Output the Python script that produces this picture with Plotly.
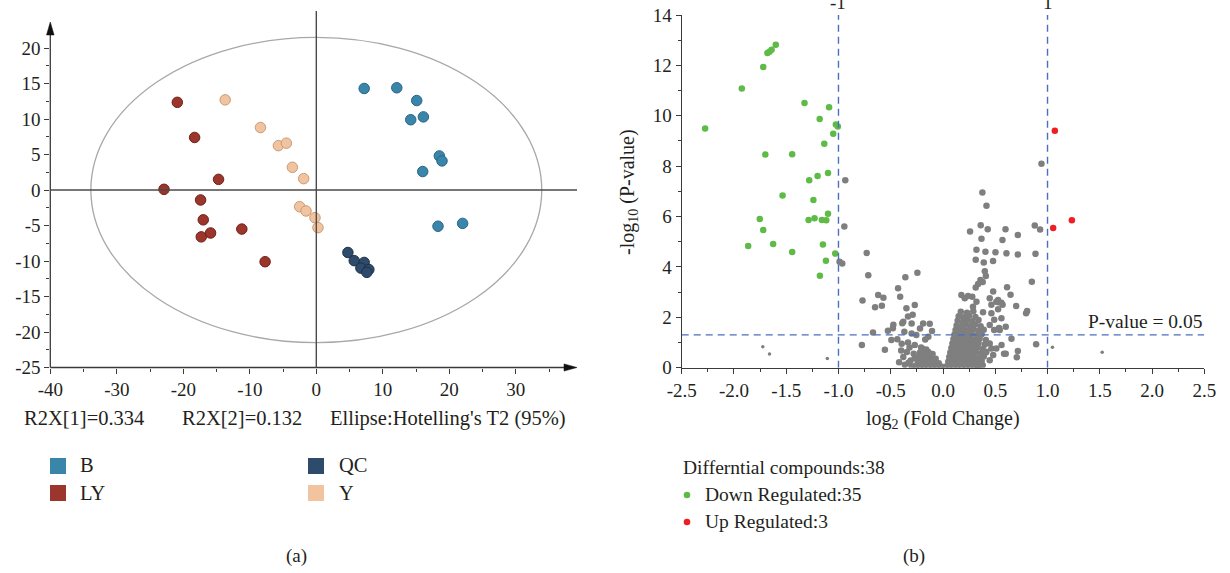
import math
import plotly.graph_objects as go

W, H = 1230, 573
FONT = "Liberation Serif"
TXT = "#231F20"
AX = "#3A3A3A"

# ---------------- (a) PCA score plot data ----------------
B_x = [7.2, 12.1, 15.1, 14.2, 16.1, 18.5, 18.9, 16.0, 18.3, 22.0]
B_y = [14.3, 14.4, 12.6, 9.9, 10.3, 4.8, 4.1, 2.6, -5.1, -4.7]
LY_x = [-20.9, -18.3, -22.9, -14.7, -17.4, -17.0, -17.3, -15.9, -11.2, -7.7]
LY_y = [12.35, 7.4, 0.1, 1.5, -1.4, -4.2, -6.6, -6.05, -5.5, -10.1]
QC_x = [4.75, 5.7, 7.2, 6.7, 7.9, 7.6]
QC_y = [-8.8, -9.95, -10.2, -11.0, -11.2, -11.6]
Y_x = [-13.7, -8.4, -5.7, -4.5, -3.6, -1.9, -2.5, -1.55, -0.2, 0.25]
Y_y = [12.7, 8.8, 6.25, 6.6, 3.2, 1.6, -2.35, -2.95, -3.9, -5.3]
group_names = ["B", "LY", "QC", "Y"]
pca_notes = ["R2X[1]=0.334", "R2X[2]=0.132", "Ellipse:Hotelling's T2 (95%)"]
ellipse_semi = [33.9, 21.5]
pca_xticks = [-40, -30, -20, -10, 0, 10, 20, 30]
pca_xminor = [-35, -25, -15, -5, 5, 15, 25, 35]
pca_yticks = [-25, -20, -15, -10, -5, 0, 5, 10, 15, 20]
pca_yminor = [-22.5, -17.5, -12.5, -7.5, -2.5, 2.5, 7.5, 12.5, 17.5]

# ---------------- (b) volcano plot data ----------------
down_fc = [-2.276, -1.925, -1.72, -1.68, -1.66, -1.64, -1.60, -1.325, -1.09, -1.18,
           -1.025, -1.006, -1.05, -1.136, -1.70, -1.443, -1.10, -1.20, -1.28, -1.535,
           -1.24, -1.10, -1.753, -1.286, -1.229, -1.159, -1.117, -1.72, -1.864, -1.625,
           -1.443, -1.149, -1.031, -1.12, -1.178]
down_p = [9.49, 11.08, 11.94, 12.49, 12.54, 12.62, 12.82, 10.51, 10.34, 9.87,
          9.65, 9.57, 9.29, 8.89, 8.46, 8.47, 7.73, 7.61, 7.44, 6.84,
          6.66, 6.11, 5.90, 5.86, 5.93, 5.86, 5.85, 5.47, 4.83, 4.91,
          4.59, 4.89, 4.53, 4.25, 3.65]
up_fc = [1.07, 1.054, 1.233]
up_p = [9.41, 5.55, 5.85]
ns_points = [
    # scattered, left side
    (-0.935, 7.44), (-0.944, 5.60), (-0.990, 4.21), (-0.964, 4.14), (-0.730, 4.55), (-0.715, 3.67),
    (-0.770, 2.67), (-0.620, 2.89), (-0.570, 2.78), (-0.650, 2.40), (-0.585, 2.46), (-0.360, 3.59),
    (-0.430, 3.15), (-0.410, 2.82), (-0.245, 3.77), (-0.670, 1.40), (-0.776, 0.90), (-0.556, 0.71),
    (-0.527, 1.47), (-0.475, 1.70), (-0.480, 1.57), (-0.494, 1.10), (-0.437, 1.13), (-0.105, 1.46),
    (-0.350, 2.36), (-0.335, 2.03), (-0.290, 2.10), (-0.270, 2.49), (-0.380, 1.82), (-0.300, 1.75),
    (-0.220, 1.56), (-0.190, 1.75), (-0.370, 1.43), (-0.300, 1.36), (-0.255, 1.30), (-0.335, 1.00),
    (-0.320, 0.80), (-0.270, 0.90), (-0.210, 0.80), (-0.400, 0.68), (-0.380, 0.42), (-0.310, 0.29),
    (-0.140, 1.23), (-0.127, 1.74), (-0.170, 1.12), (-0.390, 1.76), (-0.420, 0.22), (-0.365, 0.12),
    (-0.395, 0.95), (-0.345, 0.62),
    # scattered, right side
    (0.942, 8.10), (0.377, 6.95), (0.416, 6.43), (0.259, 5.41), (0.361, 5.65), (0.428, 5.50),
    (0.598, 5.50), (0.368, 5.12), (0.569, 5.07), (0.716, 5.27), (0.878, 5.64), (0.929, 5.49),
    (0.320, 4.68), (0.406, 4.60), (0.502, 4.58), (0.607, 4.54), (0.716, 4.49), (0.885, 4.52),
    (0.313, 4.28), (0.390, 4.18), (0.479, 4.24), (0.400, 3.83), (0.410, 3.64), (0.358, 3.48),
    (0.336, 3.32), (0.313, 3.18), (0.380, 3.40), (0.850, 3.41), (0.613, 3.19), (0.646, 2.90),
    (0.700, 2.45), (0.805, 2.25), (0.795, 2.16), (0.891, 0.93), (0.655, 1.15), (0.716, 0.66),
    (0.706, 0.41), (0.584, 0.55), (0.600, 0.55), (0.329, 0.09), (0.176, 2.89), (0.208, 2.76),
    (0.280, 2.82), (0.240, 2.85), (0.480, 3.02), (0.320, 2.62), (0.287, 2.42), (0.447, 2.76),
    (0.463, 2.50), (0.510, 2.62), (0.559, 2.58), (0.383, 2.20), (0.463, 2.16), (0.527, 2.32),
    (0.559, 1.96), (0.490, 1.90), (0.447, 1.69), (0.490, 1.50), (0.543, 1.50), (0.560, 0.90),
    (0.447, 0.96), (0.463, 0.76), (0.415, 0.63), (0.480, 0.50), (0.447, 0.30), (0.510, 0.76),
    (0.530, 2.60), (0.570, 2.50), (0.527, 2.69), (0.600, 1.63), (0.536, 1.58),
    # dense cluster, left of zero
    (-0.22, 0.04), (-0.18, 0.08), (-0.14, 0.04), (-0.10, 0.07), (-0.06, 0.04), (-0.02, 0.05), (-0.26, 0.08),
    (-0.24, 0.24), (-0.20, 0.20), (-0.16, 0.25), (-0.12, 0.21), (-0.08, 0.24), (-0.04, 0.18),
    (-0.23, 0.42), (-0.19, 0.38), (-0.15, 0.44), (-0.11, 0.40), (-0.07, 0.36),
    (-0.22, 0.60), (-0.18, 0.56), (-0.14, 0.62), (-0.10, 0.54),
    (-0.20, 0.76), (-0.16, 0.72), (-0.28, 0.55), (-0.33, 0.20), (-0.30, 0.06), (-0.27, 0.38),
    # dense cluster, right of zero
    (0.02, 0.04), (0.06, 0.08), (0.10, 0.05), (0.14, 0.09), (0.18, 0.04), (0.22, 0.07), (0.26, 0.05),
    (0.30, 0.08), (0.34, 0.04), (0.38, 0.10),
    (0.05, 0.24), (0.09, 0.20), (0.13, 0.26), (0.17, 0.22), (0.21, 0.27), (0.25, 0.21), (0.29, 0.25),
    (0.33, 0.20), (0.37, 0.27),
    (0.06, 0.42), (0.10, 0.38), (0.14, 0.44), (0.18, 0.40), (0.22, 0.45), (0.26, 0.39), (0.30, 0.43),
    (0.34, 0.38), (0.39, 0.44),
    (0.07, 0.60), (0.11, 0.56), (0.15, 0.62), (0.19, 0.58), (0.23, 0.63), (0.27, 0.57), (0.31, 0.61),
    (0.36, 0.56), (0.41, 0.60),
    (0.08, 0.78), (0.12, 0.74), (0.16, 0.80), (0.20, 0.76), (0.24, 0.81), (0.28, 0.75), (0.33, 0.79),
    (0.38, 0.74),
    (0.09, 0.96), (0.13, 0.92), (0.17, 0.98), (0.21, 0.94), (0.25, 0.99), (0.29, 0.93), (0.34, 0.97),
    (0.40, 0.92),
    (0.10, 1.14), (0.14, 1.10), (0.18, 1.16), (0.22, 1.12), (0.26, 1.17), (0.30, 1.11), (0.35, 1.15),
    (0.41, 1.10),
    (0.11, 1.32), (0.15, 1.28), (0.19, 1.34), (0.23, 1.30), (0.27, 1.35), (0.32, 1.29), (0.37, 1.33),
    (0.12, 1.50), (0.16, 1.46), (0.20, 1.52), (0.24, 1.48), (0.29, 1.53), (0.34, 1.47), (0.39, 1.51),
    (0.13, 1.68), (0.17, 1.64), (0.21, 1.70), (0.26, 1.66), (0.31, 1.71), (0.36, 1.65),
    (0.14, 1.86), (0.19, 1.82), (0.23, 1.88), (0.28, 1.84), (0.34, 1.89),
    (0.15, 2.04), (0.20, 2.00), (0.25, 2.06), (0.31, 2.01),
    (0.17, 2.22), (0.23, 2.18), (0.29, 2.24),
]
ns_small = [(-1.724, 0.83), (-1.66, 0.54), (-1.107, 0.37), (1.047, 0.81), (1.523, 0.61)]
volc_xticks = [-2.5, -2.0, -1.5, -1.0, -0.5, 0.0, 0.5, 1.0, 1.5, 2.0, 2.5]
volc_xminor = [-2.25, -1.75, -1.25, -0.75, -0.25, 0.25, 0.75, 1.25, 1.75, 2.25]
volc_yticks = [0, 2, 4, 6, 8, 10, 12, 14]
volc_yminor = [1, 3, 5, 7, 9, 11, 13]
fc_cutoffs = [-1, 1]
p_cutoff = 0.05
volc_legend = ["Differntial compounds:38", "Down Regulated:35", "Up Regulated:3"]

# ---------------- colours ----------------
C_B, C_LY, C_QC, C_Y = "#3A86AB", "#9C352B", "#2F4B6B", "#F1C49F"
E_B, E_LY, E_QC, E_Y = "#2A6585", "#6E2119", "#1D3049", "#C79B77"
C_GREEN, C_RED, C_GRAY = "#5DBB46", "#EE1F24", "#7F7F7F"
C_DASH = "#4A6DBD"

# ---------------- pixel geometry ----------------
LX0, LX1, LY0, LY1 = 50.3, 577.0, 367.5, 11.1     # panel (a) plot box (px)
RX0, RX1, RY0, RY1 = 681.7, 1204.3, 367.7, 15.0   # panel (b) plot box (px)


def px(x):
    return x / W


def py(y):
    return 1 - y / H


def hyphen_labels(vals, fmt):
    return [fmt.format(v).replace("\u2212", "-") for v in vals]


fig = go.Figure()


def pca_trace(xs, ys, fill, edge):
    fig.add_trace(go.Scatter(
        x=xs, y=ys, mode="markers", xaxis="x", yaxis="y", showlegend=False,
        marker=dict(size=10.5, color=fill, line=dict(color=edge, width=1)),
        hoverinfo="skip"))


pca_trace(LY_x, LY_y, C_LY, E_LY)
pca_trace(Y_x, Y_y, C_Y, E_Y)
pca_trace(B_x, B_y, C_B, E_B)
pca_trace(QC_x, QC_y, C_QC, E_QC)

fig.add_trace(go.Scatter(
    x=[p[0] for p in ns_points], y=[p[1] for p in ns_points], mode="markers",
    xaxis="x2", yaxis="y2", showlegend=False,
    marker=dict(size=6.5, color=C_GRAY), hoverinfo="skip"))
fig.add_trace(go.Scatter(
    x=[p[0] for p in ns_small], y=[p[1] for p in ns_small], mode="markers",
    xaxis="x2", yaxis="y2", showlegend=False,
    marker=dict(size=3.5, color=C_GRAY), hoverinfo="skip"))
fig.add_trace(go.Scatter(
    x=down_fc, y=down_p, mode="markers", xaxis="x2", yaxis="y2", showlegend=False,
    marker=dict(size=6.5, color=C_GREEN), hoverinfo="skip"))
fig.add_trace(go.Scatter(
    x=up_fc, y=up_p, mode="markers", xaxis="x2", yaxis="y2", showlegend=False,
    marker=dict(size=6.5, color=C_RED), hoverinfo="skip"))

tickfont = dict(family=FONT, size=19, color=TXT)
common = dict(showgrid=False, zeroline=False, ticks="outside", ticklen=5, tickwidth=1,
              tickcolor=AX, tickfont=tickfont, fixedrange=True, automargin=False)

shapes = []
# panel (a) axes lines with arrows
shapes.append(dict(type="line", xref="paper", yref="paper", x0=px(LX0), x1=px(LX0),
                   y0=py(LY0), y1=py(25), line=dict(color=AX, width=1.3)))
shapes.append(dict(type="path", xref="paper", yref="paper",
                   path=f"M {px(LX0-3.8)},{py(35)} L {px(LX0)},{py(22)} L {px(LX0+3.8)},{py(35)} Z",
                   fillcolor="#111", line=dict(color="#111", width=0.5)))
shapes.append(dict(type="line", xref="paper", yref="paper", x0=px(LX0), x1=px(LX1 - 4),
                   y0=py(LY0), y1=py(LY0), line=dict(color=AX, width=1.3)))
shapes.append(dict(type="path", xref="paper", yref="paper",
                   path=f"M {px(LX1-13)},{py(LY0-3.6)} L {px(LX1)},{py(LY0)} L {px(LX1-13)},{py(LY0+3.6)} Z",
                   fillcolor="#111", line=dict(color="#111", width=0.5)))
# zero lines of panel (a)
shapes.append(dict(type="line", xref="x", yref="y", x0=0, x1=0, y0=-25, y1=25.2,
                   line=dict(color="#4A4A4A", width=1.4)))
shapes.append(dict(type="line", xref="x", yref="y", x0=-40, x1=39.2, y0=0, y1=0,
                   line=dict(color="#4A4A4A", width=1.4)))
# Hotelling ellipse
shapes.append(dict(type="circle", xref="x", yref="y",
                   x0=-ellipse_semi[0], x1=ellipse_semi[0], y0=-ellipse_semi[1], y1=ellipse_semi[1],
                   line=dict(color="#A8A8A8", width=1.3), layer="below"))
# volcano cut-off lines
p_line = -math.log10(p_cutoff)
for fc in fc_cutoffs:
    shapes.append(dict(type="line", xref="x2", yref="y2", x0=fc, x1=fc, y0=0, y1=14,
                       line=dict(color=C_DASH, width=1.4, dash="7px,5px")))
shapes.append(dict(type="line", xref="x2", yref="y2", x0=-2.5, x1=2.5, y0=p_line, y1=p_line,
                   line=dict(color=C_DASH, width=1.4, dash="7px,5px")))

# legend squares of panel (a)
sq = [(50, 458, C_B), (50, 485, C_LY), (308, 458, C_QC), (308, 485, C_Y)]
for x0, y0, c in sq:
    shapes.append(dict(type="rect", xref="paper", yref="paper", x0=px(x0), x1=px(x0 + 16),
                       y0=py(y0 + 16), y1=py(y0), fillcolor=c, line=dict(width=0)))
# legend dots of panel (b)
for yc, c in [(495, C_GREEN), (522, C_RED)]:
    shapes.append(dict(type="circle", xref="paper", yref="paper", xsizemode="pixel",
                       ysizemode="pixel", xanchor=px(687), yanchor=py(yc),
                       x0=-3.3, x1=3.3, y0=-3.3, y1=3.3, fillcolor=c, line=dict(width=0)))

ann = []


def text(s, x, y, xanchor="left", size=20.5, **kw):
    ann.append(dict(text=s, x=px(x), y=py(y), xref="paper", yref="paper", showarrow=False,
                    xanchor=xanchor, yanchor="middle",
                    font=dict(family=FONT, size=size, color=TXT), **kw))


text(pca_notes[0], 22, 418)
text(pca_notes[1], 180, 418)
text(pca_notes[2], 328, 418)
text(group_names[0], 78, 465)
text(group_names[1], 78, 493)
text(group_names[2], 337, 465)
text(group_names[3], 337, 493)
text("(a)", 296, 556, xanchor="center", size=19)
text("(b)", 914, 556, xanchor="center", size=19)
text(volc_legend[0], 681, 467, size=19.5)
text(volc_legend[1], 703, 494, size=19.5)
text(volc_legend[2], 703, 521, size=19.5)
text("log<sub>2</sub> (Fold Change)", 943, 419, xanchor="center", size=20)
text("-log<sub>10</sub> (P-value)", 628, 192, xanchor="center", textangle=-90, size=20)
text("-1", 838, 2.5, xanchor="center", size=19)
text("1", 1048, 2.5, xanchor="center", size=19)
ann.append(dict(text="P-value = 0.05", x=2.5, y=p_line, xref="x2", yref="y2", showarrow=False,
                xanchor="right", yanchor="bottom", yshift=1,
                font=dict(family=FONT, size=19.5, color=TXT)))

fig.update_layout(
    width=W, height=H, autosize=False,
    margin=dict(l=0, r=0, t=0, b=0, pad=0),
    paper_bgcolor="white", plot_bgcolor="white",
    showlegend=False,
    xaxis=dict(domain=[px(LX0), px(LX1)], range=[-40, 39.2], anchor="y",
               tickvals=pca_xticks, ticktext=hyphen_labels(pca_xticks, "{:d}"), showline=False,
               minor=dict(tickvals=pca_xminor, ticklen=3, ticks="outside", tickcolor=AX),
               **common),
    yaxis=dict(domain=[py(LY0), py(LY1)], range=[-25, 25.2], anchor="x",
               tickvals=pca_yticks, ticktext=hyphen_labels(pca_yticks, "{:d}"), showline=False,
               minor=dict(tickvals=pca_yminor, ticklen=3, ticks="outside", tickcolor=AX),
               **common),
    xaxis2=dict(domain=[px(RX0), px(RX1)], range=[-2.5, 2.5], anchor="y2",
                tickvals=volc_xticks, ticktext=hyphen_labels(volc_xticks, "{:.1f}"),
                showline=True, linecolor=AX, linewidth=1.2,
                minor=dict(tickvals=volc_xminor, ticklen=3, ticks="outside", tickcolor=AX),
                **common),
    yaxis2=dict(domain=[py(RY0), py(RY1)], range=[0, 14], anchor="x2",
                tickvals=volc_yticks, ticktext=hyphen_labels(volc_yticks, "{:d}"),
                showline=True, linecolor=AX, linewidth=1.2,
                minor=dict(tickvals=volc_yminor, ticklen=3, ticks="outside", tickcolor=AX),
                **common),
    shapes=shapes,
    annotations=ann,
)

fig.write_html("out.html")
